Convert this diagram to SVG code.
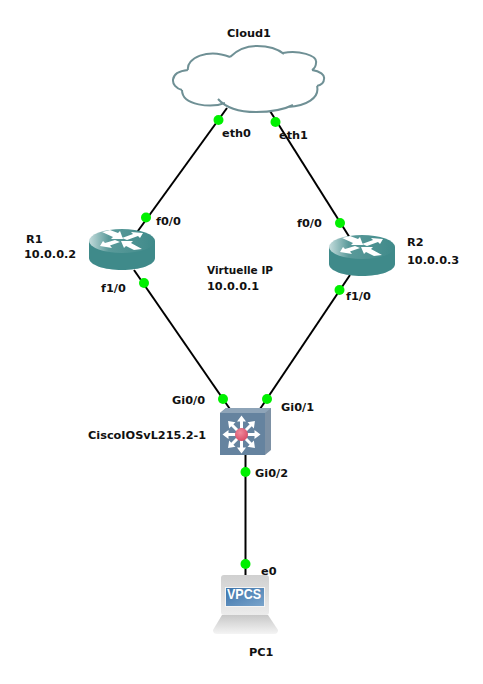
<svg xmlns="http://www.w3.org/2000/svg" width="483" height="684" viewBox="0 0 483 684">
<style>
text{font-family:"DejaVu Sans",Verdana,sans-serif;font-weight:700;font-size:11.3px;fill:#111}
.l{stroke:#000;stroke-width:2;fill:none}
.d{fill:#00f000}
.a{fill:#fff}
</style>
<defs>
<linearGradient id="rt" x1="0" y1="0" x2="1" y2="0"><stop offset="0" stop-color="#c4dcdc"/><stop offset=".3" stop-color="#5a9a9a"/><stop offset="1" stop-color="#3f8a8a"/></linearGradient>
<linearGradient id="scr" x1="0" y1="0" x2="1" y2="1"><stop offset="0" stop-color="#3a72aa"/><stop offset="1" stop-color="#7aa4cb"/></linearGradient>
<linearGradient id="base" x1="0" y1="0" x2="0" y2="1"><stop offset="0" stop-color="#c8c8c8"/><stop offset="1" stop-color="#f4f4f4"/></linearGradient>
<linearGradient id="mon" x1="0" y1="0" x2="0" y2="1"><stop offset="0" stop-color="#d0d0d0"/><stop offset="1" stop-color="#ececec"/></linearGradient>
<radialGradient id="hub" cx=".4" cy=".35" r=".7"><stop offset="0" stop-color="#f08a9c"/><stop offset="1" stop-color="#d84a64"/></radialGradient>
<g id="router">
<path d="M89 241V258C89 265 104 270 122 270S155 265 155 258V241Z" fill="#3f8a8a"/>
<ellipse cx="122" cy="241" rx="33" ry="12" fill="url(#rt)"/>
<path class="a" d="M102 232L110 230L118 233L120 231L123 239L111 239L113 237ZM143 233L131 232L133 234L122 238L127 240L138 236L140 238ZM100 246L112 248L110 245.500L120 242L115 240L105 243L103 241ZM142 249L134 250L126 246L124 248L121 241L133 241L131 243Z"/>
</g>
<path id="ar" class="a" d="M-1.500 -6V-13H-4.500L0 -19L4.500 -13H1.500V-6Z"/>
</defs>
<g id="connectors">
<path class="l" d="M227 108L135 235"/>
<path class="l" d="M270 111L350 238"/>
<path class="l" d="M134 270L232 412"/>
<path class="l" d="M350 275L258 412"/>
<path class="l" d="M245.500 455V576"/>
</g>
<g id="Cloud1">
<path d="M230 57C238 49 248 46 257 46C268 46 278 49 284 54C298 50 318 55 316 63C316 66 315 68 312 70C320 71 325 75 324 79C324 83 321 85 317 86C320 98 306 106 288 107C283 110 270 112 256 112C240 112 230 108 225 103C212 108 182 106 182 90C170 87 168 72 188 70C186 58 208 48 230 57Z" fill="#fff"/>
<path d="M230 57C238 49 248 46 257 46C268 46 278 49 284 54M283 53C298 50 318 55 316 63C316 66 315 68 312 70M312 70C320 71 325 75 324 79C324 83 321 85 317 86M317 86C320 98 306 106 288 107M293 105C283 110 270 112 256 112C240 112 226 108 218 99M225 103C212 108 182 106 182 90M182 90C170 87 168 72 188 70M188 70C186 58 208 48 230 57" fill="none" stroke="#6f9095" stroke-width="2"/>
<text x="227" y="37">Cloud1</text>
</g>
<g id="R1">
<use href="#router"/>
<text x="26" y="243">R1</text>
<text x="24" y="258">10.0.0.2</text>
</g>
<g id="R2">
<use href="#router" x="240" y="6"/>
<text x="407" y="246">R2</text>
<text x="407" y="264">10.0.0.3</text>
</g>
<g id="CiscoIOSvL215.2-1">
<path d="M220 413L226 408H271V450L265 455Z" fill="#7d91a5"/>
<rect x="220" y="413" width="45" height="42" fill="#65839f"/>
<path d="M220 413L226 408H271L265 413Z" fill="#8ea4b8"/>
<g transform="translate(241.500 434.500)">
<use href="#ar"/><use href="#ar" transform="rotate(45)"/><use href="#ar" transform="rotate(90)"/><use href="#ar" transform="rotate(135)"/><use href="#ar" transform="rotate(180)"/><use href="#ar" transform="rotate(225)"/><use href="#ar" transform="rotate(270)"/><use href="#ar" transform="rotate(315)"/>
<circle r="6.500" fill="url(#hub)"/>
</g>
<text x="88" y="439">CiscoIOSvL215.2-1</text>
</g>
<g id="PC1">
<rect x="221" y="575" width="48" height="40" rx="3" fill="url(#mon)"/>
<rect x="225" y="587" width="40" height="20" fill="#f4f4f4"/>
<rect x="226" y="588" width="38" height="18" fill="url(#scr)"/>
<text x="227" y="599" style="fill:#fff;font-size:14px;font-family:'Liberation Sans',sans-serif" textLength="34" lengthAdjust="spacingAndGlyphs">VPCS</text>
<path d="M222 615H268L278 630Q278 634 274 634H217Q213 634 213 630Z" fill="url(#base)"/>
<text x="249" y="656">PC1</text>
</g>
<g id="labels">
<circle class="d" cx="218.500" cy="120" r="5"/>
<circle class="d" cx="275.500" cy="122" r="5"/>
<circle class="d" cx="146" cy="217.500" r="5"/>
<circle class="d" cx="144" cy="283" r="5"/>
<circle class="d" cx="340" cy="223" r="5"/>
<circle class="d" cx="339.500" cy="290" r="5"/>
<circle class="d" cx="223" cy="399" r="5"/>
<circle class="d" cx="267" cy="399" r="5"/>
<circle class="d" cx="245.500" cy="472" r="5"/>
<circle class="d" cx="245.500" cy="564" r="5"/>
<text x="222" y="137">eth0</text>
<text x="279" y="139">eth1</text>
<text x="156" y="225">f0/0</text>
<text x="101" y="292">f1/0</text>
<text x="297" y="227">f0/0</text>
<text x="346" y="300">f1/0</text>
<text x="172" y="404">Gi0/0</text>
<text x="281" y="411">Gi0/1</text>
<text x="255" y="477">Gi0/2</text>
<text x="261" y="575">e0</text>
<text x="207" y="274" textLength="66" lengthAdjust="spacingAndGlyphs">Virtuelle IP</text>
<text x="207" y="290">10.0.0.1</text>
</g>
</svg>
